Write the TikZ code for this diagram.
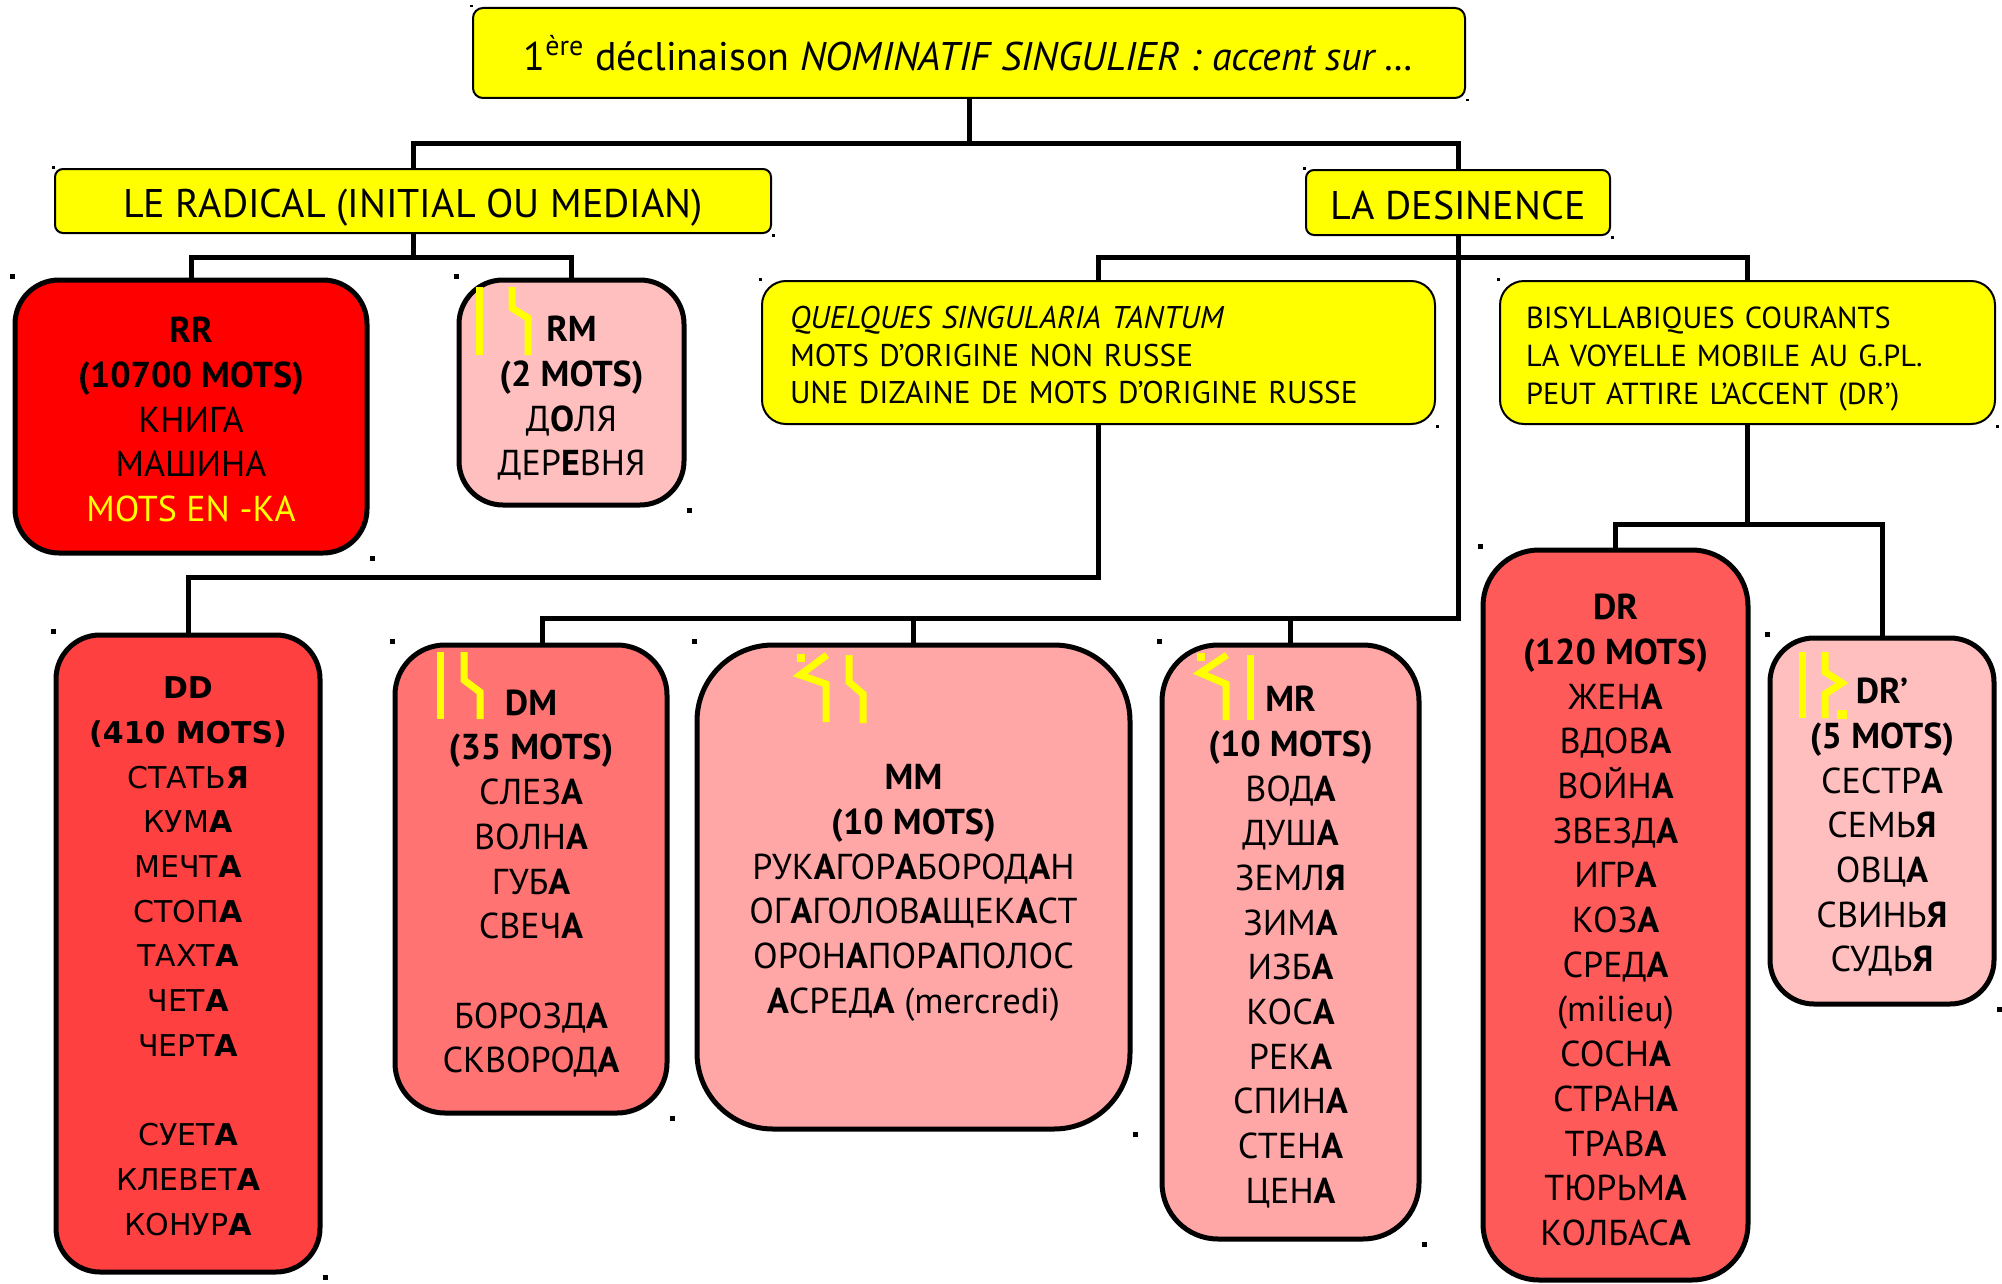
\documentclass[tikz,border=0pt]{standalone}
\usepackage{fontspec}
\setmainfont{PT Sans}
\newfontfamily\ddfont{DejaVu Sans}
\pgfdeclarelayer{bg}
\pgfsetlayers{bg,main}
\definecolor{yel}{HTML}{FFFF00}
\definecolor{cRR}{HTML}{FF0000}
\definecolor{cDD}{HTML}{FF4040}
\definecolor{cDM}{HTML}{FF7373}
\definecolor{cDR}{HTML}{FF5A5A}
\definecolor{cMM}{HTML}{FFA6A6}
\definecolor{cRM}{HTML}{FFBFBF}
\newcommand\strs[1]{\textbf{#1}}
\tikzset{
  ybox/.style={draw=black, line width=1pt, fill=yel, rounded corners=#1, inner sep=0pt},
  cbox/.style={draw=black, line width=2.5pt, rounded corners=#1, inner sep=0pt},
  headtxt/.style={inner sep=0pt, font=\fontsize{20}{24}\selectfont},
  ytxt/.style={inner sep=0pt, align=left, font=\fontsize{15.7}{18.85}\selectfont},
  ctxt/.style={inner sep=0pt, align=center, font=\fontsize{18}{22.35}\selectfont},
  conn/.style={draw=black, line width=2.5pt, line cap=rect, line join=miter},
  glyph/.style={draw=yel, line width=3.5pt, line cap=butt, line join=miter},
  handle/.style={fill=black}
}
\begin{document}
\begin{tikzpicture}[x=0.5pt,y=-0.5pt]
\useasboundingbox (0,0) rectangle (2002,1284);

% ---------- yellow header boxes
\node[ybox=5pt, minimum width=496pt, minimum height=45pt] (title) at (969,53) {};
\node[headtxt] (title-t) at (title.center)
  {1\textsuperscript{ère} déclinaison \textit{NOMINATIF SINGULIER : accent sur …}};
\node[ybox=4pt, minimum width=358pt, minimum height=32pt] (lerad) at (413,201) {};
\node[headtxt] (lerad-t) at ([yshift=-3.2pt]lerad.center) {LE RADICAL (INITIAL OU MEDIAN)};
\node[ybox=4pt, minimum width=152pt, minimum height=32.5pt] (desin) at (1458,202.5) {};
\node[headtxt] (desin-t) at ([yshift=-1.3pt]desin.center) {LA DESINENCE};
\node[ybox=12pt, minimum width=336.5pt, minimum height=71.5pt] (quel) at (1098.5,352.5) {};
\node[ytxt, text width=308.5pt] (quel-t) at ([xshift=0pt,yshift=-1.3pt]quel.center)
  {\textit{QUELQUES SINGULARIA TANTUM}\\MOTS D’ORIGINE NON RUSSE\\UNE DIZAINE DE MOTS D’ORIGINE RUSSE};
\node[ybox=12pt, minimum width=247.5pt, minimum height=71.5pt] (bis) at (1747.5,352.5) {};
\node[ytxt, text width=221.5pt, font=\fontsize{15.2}{18.85}\selectfont] (bis-t) at ([yshift=-3.2pt]bis.center)
  {BISYLLABIQUES COURANTS\\LA VOYELLE MOBILE AU G.PL.\\PEUT ATTIRE L’ACCENT (DR’)};

% ---------- coloured boxes
\node[cbox=22pt, fill=cRR, minimum width=176pt, minimum height=136.5pt] (rr) at (191,416.5) {};
\node[ctxt] (rr-t) at ([yshift=-1.6pt]rr.center)
  {\textbf{RR}\\\textbf{(10700 MOTS)}\\КНИГА\\МАШИНА\\\textcolor{yel}{MOTS EN -КА}};
\node[cbox=22pt, fill=cRM, minimum width=112.5pt, minimum height=112.5pt] (rm) at (571.5,392.5) {};
\node[ctxt] (rm-t) at ([yshift=-2.9pt]rm.center)
  {\textbf{RM}\\\textbf{(2 MOTS)}\\Д\strs{О}ЛЯ\\ДЕР\strs{Е}ВНЯ};
\node[cbox=22pt, fill=cDD, minimum width=132pt, minimum height=318.5pt] (dd) at (188,953.5) {};
\node[ctxt, font=\ddfont\fontsize{15}{22.35}\selectfont] (dd-t) at ([yshift=-1.3pt]dd.center)
  {\textbf{DD}\\\textbf{(410 MOTS)}\\СТАТЬ\strs{Я}\\КУМ\strs{А}\\МЕЧТ\strs{А}\\СТОП\strs{А}\\ТАХТ\strs{А}\\ЧЕТ\strs{А}\\ЧЕРТ\strs{А}\\[22.35pt]СУЕТ\strs{А}\\КЛЕВЕТ\strs{А}\\КОНУР\strs{А}};
\node[cbox=25pt, fill=cDM, minimum width=136pt, minimum height=234pt] (dm) at (531,879) {};
\node[ctxt] (dm-t) at ([yshift=-2.3pt]dm.center)
  {\textbf{DM}\\\textbf{(35 MOTS)}\\СЛЕЗ\strs{А}\\ВОЛН\strs{А}\\ГУБ\strs{А}\\СВЕЧ\strs{А}\\[22.35pt]БОРОЗД\strs{А}\\СКВОРОД\strs{А}};
\node[cbox=38pt, fill=cMM, minimum width=216.5pt, minimum height=242pt] (mm) at (913.5,887) {};
\node[ctxt] (mm-t) at ([yshift=-2.9pt]mm.center)
  {\textbf{MM}\\\textbf{(10 MOTS)}\\РУК\strs{А}ГОР\strs{А}БОРОД\strs{А}Н\\ОГ\strs{А}ГОЛОВ\strs{А}ЩЕК\strs{А}СТ\\ОРОН\strs{А}ПОР\strs{А}ПОЛОС\\\strs{А}СРЕД\strs{А} (mercredi)};
\node[cbox=28pt, fill=cMM, minimum width=128.5pt, minimum height=297pt] (mr) at (1290.5,942) {};
\node[ctxt] (mr-t) at ([yshift=-2.5pt]mr.center)
  {\textbf{MR}\\\textbf{(10 MOTS)}\\ВОД\strs{А}\\ДУШ\strs{А}\\ЗЕМЛ\strs{Я}\\ЗИМ\strs{А}\\ИЗБ\strs{А}\\КОС\strs{А}\\РЕК\strs{А}\\СПИН\strs{А}\\СТЕН\strs{А}\\ЦЕН\strs{А}};
\node[cbox=28pt, fill=cDR, minimum width=132.5pt, minimum height=365pt] (dr) at (1615.5,915) {};
\node[ctxt] (dr-t) at ([yshift=-2.5pt]dr.center)
  {\textbf{DR}\\\textbf{(120 MOTS)}\\ЖЕН\strs{А}\\ВДОВ\strs{А}\\ВОЙН\strs{А}\\ЗВЕЗД\strs{А}\\ИГР\strs{А}\\КОЗ\strs{А}\\СРЕД\strs{А}\\(milieu)\\СОСН\strs{А}\\СТРАН\strs{А}\\ТРАВ\strs{А}\\ТЮРЬМ\strs{А}\\КОЛБАС\strs{А}};
\node[cbox=22pt, fill=cRM, minimum width=112pt, minimum height=183pt] (drp) at (1882,821) {};
\node[ctxt] (drp-t) at ([yshift=-3.2pt]drp.center)
  {\textbf{DR’}\\\textbf{(5 MOTS)}\\СЕСТР\strs{А}\\СЕМЬ\strs{Я}\\ОВЦ\strs{А}\\СВИНЬ\strs{Я}\\СУДЬ\strs{Я}};

% ---------- connectors
\coordinate (y1) at (0,144);
\coordinate (y2) at (0,257);
\coordinate (y3) at (0,577);
\coordinate (y4) at (0,618);
\coordinate (y5) at (0,524);
\coordinate (dmj) at (542,618);
\begin{pgfonlayer}{bg}
\draw[conn] (title.south) -- (title.south |- y1);
\draw[conn] (lerad.north) |- (desin.north |- y1) -- (desin.north);
\draw[conn] (lerad.south) -- (lerad.south |- y2);
\draw[conn] (rr.north) |- (rm.north |- y2) -- (rm.north);
\draw[conn] (quel.north) |- (bis.north |- y2) -- (bis.north);
\draw[conn] (desin.south) |- (dmj) -- (dmj |- dm.north);
\draw[conn] (mm.north) -- (mm.north |- y4);
\draw[conn] (mr.north) -- (mr.north |- y4);
\draw[conn] (quel.south) |- (dd.north |- y3) -- (dd.north);
\draw[conn] (bis.south) -- (bis.south |- y5);
\draw[conn] (dr.north) |- (drp.north |- y5) -- (drp.north);
\end{pgfonlayer}

% ---------- yellow stress glyphs
% RM
\draw[glyph] (479,287) -- (479,355);
\draw[glyph] (512,287) -- (512,308) -- (528,318) -- (528,355);
% DM
\draw[glyph] (440,652) -- (440,719);
\draw[glyph] (464,652) -- (464,680) -- (480,692) -- (480,719);
% MM
\fill[yel] (796.5,654) rectangle (804.5,662);
\draw[glyph] (827,655) -- (800,675) -- (826,684) -- (826,722);
\draw[glyph] (849,655) -- (849,682) -- (863,694) -- (863,723);
% MR
\fill[yel] (1197,653) rectangle (1205,661);
\draw[glyph] (1227,655) -- (1200,673) -- (1226,684) -- (1226,720);
\draw[glyph] (1250,655) -- (1250,720);
% DR'
\draw[glyph] (1802,652) -- (1802,718);
\draw[glyph] (1825,652) -- (1825,672) -- (1842,683) -- (1825,694) -- (1825,718);
\fill[yel] (1837,710) rectangle (1847,719);

% ---------- small corner handles
\foreach \n in {title,lerad,desin,quel,bis}{
  \fill[handle] (\n.north west) ++(-2,-2) rectangle ++(2.5,2.5);
  \fill[handle] (\n.south east) ++(0,0) rectangle ++(2.5,2.5);
}
\foreach \n in {rr,rm,dd,dm,mm,mr,drp}{
  \fill[handle] (\n.north west) ++(-3,-4) rectangle ++(5,5);
  \fill[handle] (\n.south east) ++(0,0) rectangle ++(5,5);
}
\fill[handle] (dr.north west) ++(-3,-4) rectangle ++(5,5);
\end{tikzpicture}
\end{document}
